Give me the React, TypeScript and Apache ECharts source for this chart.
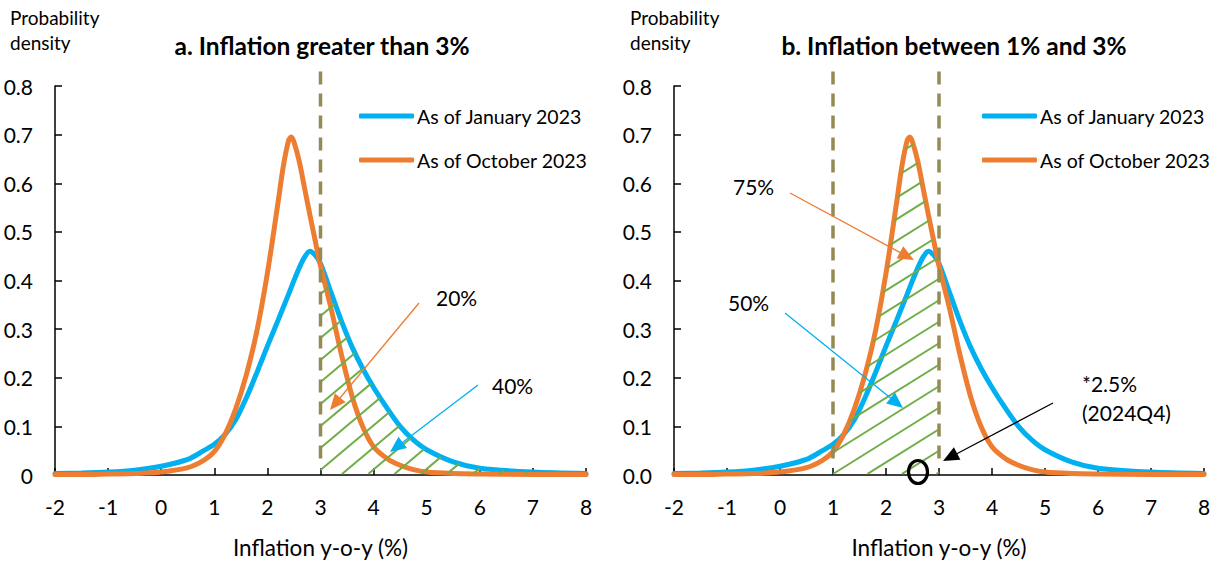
import { useEffect, useRef } from "react";
import * as echarts from "echarts";

// ---------- data ----------
const XS = [-2, -1.5, -1, -0.5, 0, 0.5, 0.8, 1, 1.2, 1.4, 1.6, 1.8, 2, 2.2, 2.3, 2.4, 2.45, 2.5, 2.6, 2.7, 2.8, 2.9, 3, 3.2, 3.4, 3.6, 3.8, 4, 4.25, 4.5, 4.75, 5, 5.5, 6, 7, 8];
const JAN_2023 = [0.003, 0.004, 0.006, 0.01, 0.018, 0.032, 0.05, 0.063, 0.083, 0.113, 0.158, 0.21, 0.265, 0.318, 0.345, 0.372, 0.386, 0.4, 0.426, 0.448, 0.46, 0.452, 0.435, 0.375, 0.315, 0.262, 0.218, 0.18, 0.138, 0.1, 0.072, 0.052, 0.027, 0.014, 0.006, 0.003];
const OCT_2023 = [0.001, 0.001, 0.002, 0.003, 0.006, 0.015, 0.03, 0.048, 0.083, 0.135, 0.205, 0.295, 0.415, 0.56, 0.635, 0.688, 0.695, 0.685, 0.645, 0.59, 0.535, 0.482, 0.43, 0.342, 0.245, 0.16, 0.098, 0.058, 0.034, 0.02, 0.011, 0.006, 0.003, 0.002, 0.001, 0.001];

const SERIES_NAMES = ["As of January 2023", "As of October 2023"];
const PANEL_TITLES = ["a. Inflation greater than 3%", "b. Inflation between 1% and 3%"];
const SHADED_RANGES = [[3, 8], [1, 3]];
const THRESHOLDS = [[3], [1, 3]];
const X_MIN = -2;
const X_MAX = 8;
const Y_MAX = 0.8;
const Y_STEP = 0.1;
const X_NAME = "Inflation y-o-y (%)";
const Y_NAME = ["Probability", "density"];

// ---------- style ----------
const BLUE = "#00B0F0";
const ORANGE = "#ED7D31";
const GREEN = "#70AD47";
const OLIVE = "#948A54";
const FONT = "Lato, 'Open Sans', sans-serif";

const GRIDS = [
  { left: 55, top: 86, width: 531, height: 389 },
  { left: 674, top: 86, width: 530, height: 389 },
];

function densityAt(arr: number[], x: number): number {
  if (x <= XS[0]) return arr[0];
  for (let i = 0; i < XS.length - 1; i++) {
    if (x >= XS[i] && x <= XS[i + 1]) {
      const t = (x - XS[i]) / (XS[i + 1] - XS[i]);
      return arr[i] + t * (arr[i + 1] - arr[i]);
    }
  }
  return arr[arr.length - 1];
}
const upper = (x: number) => Math.max(densityAt(JAN_2023, x), densityAt(OCT_2023, x));

function makeHatch(angleDeg: number, spacing: number, phase: number) {
  return (params: any, api: any) => {
    const xa = api.value(0);
    const xb = api.value(1);
    const pa = api.coord([xa, 0]);
    const pb = api.coord([xb, 0]);
    const base = pa[1];
    const w = pb[0] - pa[0];
    const t = Math.tan((angleDeg * Math.PI) / 180);
    let minPy = base;
    for (let dx = 0; dx <= w; dx += 1) {
      const X = xa + (dx / w) * (xb - xa);
      minPy = Math.min(minPy, api.coord([X, upper(X)])[1]);
    }
    const c0 = base - phase;
    const kMin = Math.floor((minPy - c0) / spacing) - 1;
    const kMax = Math.ceil((base + t * w - c0) / spacing) + 1;
    const children: any[] = [];
    for (let k = kMin; k <= kMax; k++) {
      const c = c0 + k * spacing;
      let start: number[] | null = null;
      let prev: number[] | null = null;
      const flush = () => {
        if (start && prev && Math.hypot(prev[0] - start[0], prev[1] - start[1]) > 2) {
          children.push({
            type: "line",
            shape: { x1: start[0], y1: start[1], x2: prev[0], y2: prev[1] },
            style: { stroke: GREEN, lineWidth: 2 },
          });
        }
        start = null;
      };
      for (let dx = 0; dx <= w; dx += 0.5) {
        const x = pa[0] + dx;
        const y = c - t * dx;
        const X = xa + (dx / w) * (xb - xa);
        const top = api.coord([X, upper(X)])[1];
        const inside = y <= base - 1 && y >= top;
        if (inside) {
          if (!start) start = [x, y];
          prev = [x, y];
        } else if (start) {
          flush();
        }
      }
      flush();
    }
    return { type: "group", children };
  };
}

function arrow(x1: number, y1: number, x2: number, y2: number, color: string) {
  const len = Math.hypot(x2 - x1, y2 - y1);
  const ux = (x2 - x1) / len;
  const uy = (y2 - y1) / len;
  const head = 16;
  const half = 7;
  const bx = x2 - ux * head;
  const by = y2 - uy * head;
  const px = -uy;
  const py = ux;
  return [
    {
      type: "line",
      z: 20,
      shape: { x1, y1, x2: bx + ux * 2, y2: by + uy * 2 },
      style: { stroke: color, lineWidth: 1.3 },
    },
    {
      type: "polygon",
      z: 20,
      shape: { points: [[x2, y2], [bx + px * half, by + py * half], [bx - px * half, by - py * half]] },
      style: { fill: color },
    },
  ];
}

function text(str: string, x: number, y: number, size: number, extra: any = {}) {
  return {
    type: "text",
    z: 20,
    x,
    y,
    style: {
      text: str,
      fontFamily: FONT,
      fontSize: size,
      fill: "#000",
      textVerticalAlign: "middle",
      ...extra,
    },
  };
}

export default function App() {
  const ref = useRef<HTMLDivElement>(null);
  useEffect(() => {
    if (!ref.current) return;
    const chart = echarts.init(ref.current, undefined, { renderer: "svg" });

    const series: any[] = [];
    [0, 1].forEach((p) => {
      series.push({
        name: SERIES_NAMES[0],
        type: "line",
        xAxisIndex: p,
        yAxisIndex: p,
        data: XS.map((x, i) => [x, JAN_2023[i]]),
        symbol: "none",
        smooth: 0.3,
        lineStyle: { color: BLUE, width: 5, cap: "round" },
        itemStyle: { color: BLUE },
        z: 2,
      });
      series.push({
        name: SERIES_NAMES[1],
        type: "line",
        xAxisIndex: p,
        yAxisIndex: p,
        data: XS.map((x, i) => [x, OCT_2023[i]]),
        symbol: "none",
        smooth: 0.3,
        lineStyle: { color: ORANGE, width: 5, cap: "round" },
        itemStyle: { color: ORANGE },
        z: 2,
      });
      series.push({
        type: "custom",
        xAxisIndex: p,
        yAxisIndex: p,
        data: [SHADED_RANGES[p]],
        renderItem: p === 0 ? makeHatch(40, 22, 5) : makeHatch(32, 21.5, 1),
        silent: true,
        z: 3,
      });
      THRESHOLDS[p].forEach((th) => {
        series.push({
          type: "line",
          xAxisIndex: p,
          yAxisIndex: p,
          data: [[th, 0.83], [th, 0.027]],
          symbol: "none",
          clip: false,
          silent: true,
          lineStyle: { color: OLIVE, width: 3.5, type: [13, 9] },
          z: 4,
        });
      });
    });

    const graphics: any[] = [];
    // titles and y-axis names
    graphics.push(text(PANEL_TITLES[0], 322, 45, 24.5, { fontWeight: "bold", textAlign: "center" }));
    graphics.push(text(PANEL_TITLES[1], 954, 45, 24.5, { fontWeight: "bold", textAlign: "center" }));
    [10, 630].forEach((x) => {
      graphics.push(text(Y_NAME[0], x, 17, 19));
      graphics.push(text(Y_NAME[1], x, 42, 19));
    });
    // annotations
    graphics.push(text("20%", 436, 297, 21));
    graphics.push(...arrow(419, 303, 330, 410, ORANGE));
    graphics.push(text("40%", 492, 385, 21));
    graphics.push(...arrow(478, 385, 390, 452, BLUE));
    graphics.push(text("75%", 733, 186, 21));
    graphics.push(...arrow(790, 193, 914, 260, ORANGE));
    graphics.push(text("50%", 728, 302, 21));
    graphics.push(...arrow(785, 313, 903, 408, BLUE));
    graphics.push(text("*2.5%", 1082, 383, 21));
    graphics.push(text("(2024Q4)", 1082, 412, 21));
    graphics.push(...arrow(1053, 403, 943, 461, "#000"));
    graphics.push({
      type: "ellipse",
      z: 20,
      shape: { cx: 918, cy: 472, rx: 9.5, ry: 11.5 },
      style: { fill: "none", stroke: "#000", lineWidth: 3.2 },
    });

    const axisLine = { lineStyle: { color: "#000", width: 1.5 } };
    const option: any = {
      animation: false,
      backgroundColor: "#fff",
      grid: GRIDS.map((g) => ({ ...g, containLabel: false, outerBoundsMode: "none" })),
      xAxis: [0, 1].map((p) => ({
        type: "value",
        gridIndex: p,
        min: X_MIN,
        max: X_MAX,
        interval: 1,
        name: X_NAME,
        nameLocation: "middle",
        nameGap: 61,
        nameTextStyle: { fontFamily: FONT, fontSize: 22.5, color: "#000" },
        axisLine: { onZero: false, ...axisLine },
        axisTick: { inside: true, length: 7, lineStyle: { color: "#000", width: 1.5 } },
        axisLabel: { fontFamily: FONT, fontSize: 21, color: "#000", margin: 21 },
        splitLine: { show: false },
      })),
      yAxis: [0, 1].map((p) => ({
        type: "value",
        gridIndex: p,
        min: 0,
        max: Y_MAX,
        interval: Y_STEP,
        axisLine: { show: true, onZero: false, ...axisLine },
        axisTick: { show: true, inside: true, length: 7, lineStyle: { color: "#000", width: 1.5 } },
        axisLabel: {
          fontFamily: FONT,
          fontSize: 21,
          color: "#000",
          margin: 22,
          formatter: (v: number) => (p === 0 && v === 0 ? "0" : v.toFixed(1)),
        },
        splitLine: { show: false },
      })),
      legend: [359, 982].map((left) => ({
        data: SERIES_NAMES.map((name) => ({ name, icon: "roundRect" })),
        orient: "vertical",
        left,
        top: 106,
        padding: 0,
        itemWidth: 55,
        itemHeight: 5,
        itemGap: 24,
        selectedMode: false,
        textStyle: { fontFamily: FONT, fontSize: 19.5, color: "#000", padding: [0, 0, 0, -2] },
      })),
      series,
      graphic: graphics,
    };
    chart.setOption(option);
    return () => chart.dispose();
  }, []);
  return (
    <div
      ref={ref}
      style={{ position: "absolute", left: 0, top: 0, width: 1215, height: 561, background: "#fff" }}
    />
  );
}
